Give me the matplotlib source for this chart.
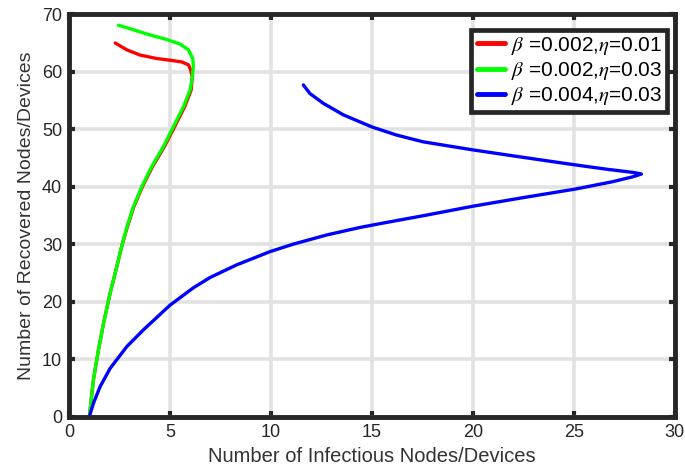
import matplotlib
matplotlib.use("Agg")
import matplotlib.pyplot as plt

# Infectious (x) vs recovered (y) trajectories
red_i = [1.0, 1.2, 1.45, 1.70, 2.03, 2.36, 2.6, 2.88, 3.2, 3.63, 4.13, 4.72,
         5.22, 5.72, 6.04, 6.1, 6.02, 5.91, 5.58, 5.0, 4.34, 3.51, 2.86, 2.28]
red_r = [0.0, 6.4, 11.6, 16.2, 21.5, 26.1, 29.6, 33.0, 36.5, 40.0, 43.5, 47.0,
         50.4, 53.9, 56.8, 59.1, 60.3, 61.2, 61.7, 62.0, 62.3, 62.9, 63.8, 65.0]

green_i = [1.0, 1.2, 1.45, 1.70, 2.03, 2.36, 2.6, 2.86, 3.18, 3.6, 4.09, 4.67,
           5.16, 5.66, 5.99, 6.1, 6.15, 6.12, 5.91, 5.5, 4.84, 4.0, 3.18, 2.44]
green_r = [0.0, 6.4, 11.6, 16.2, 21.5, 26.1, 29.6, 33.0, 36.5, 40.0, 43.5, 47.0,
           50.4, 53.9, 56.8, 59.0, 60.9, 62.3, 63.8, 64.8, 65.6, 66.4, 67.3, 68.1]

blue_i = [1.0, 1.2, 1.53, 2.03, 2.86, 3.68, 5.0, 6.15, 6.98, 8.3, 9.95, 11.1,
          12.76, 14.4, 15.6, 17.7, 20.0, 22.5, 25.1, 26.9, 27.9, 28.35, 28.0,
          27.3, 26.6, 25.05, 22.5, 20.0, 17.54, 16.2, 14.99, 13.58, 12.59,
          11.93, 11.6]
blue_r = [0.0, 2.3, 5.2, 8.4, 12.2, 15.1, 19.4, 22.4, 24.2, 26.4, 28.7, 30.0,
          31.6, 32.9, 33.7, 35.05, 36.6, 38.1, 39.6, 40.85, 41.7, 42.2, 42.45,
          42.75, 43.05, 43.8, 45.1, 46.4, 47.8, 49.0, 50.4, 52.5, 54.5,
          56.2, 57.7]

labels = [r"$\beta$ =0.002,$\eta$=0.01",
          r"$\beta$ =0.002,$\eta$=0.03",
          r"$\beta$ =0.004,$\eta$=0.03"]

plt.rcParams["font.family"] = ["Liberation Sans", "DejaVu Sans"]
plt.rcParams["mathtext.fontset"] = "stix"

fig, ax = plt.subplots(figsize=(6.85, 4.75), dpi=100)
fig.subplots_adjust(left=0.101, right=0.985, bottom=0.123, top=0.970)

kw = dict(linewidth=2.4, solid_joinstyle="round", solid_capstyle="round")
ax.plot(red_i, red_r, color="#ff0000", label=labels[0], **kw)
ax.plot(green_i, green_r, color="#00ff00", label=labels[1], **kw)
ax.plot(blue_i, blue_r, color="#0000ff", label=labels[2], **kw)

ax.set_xlim(0, 30)
ax.set_ylim(0, 70)
ax.set_xticks(range(0, 31, 5))
ax.set_yticks(range(0, 71, 10))
ax.grid(True, color="#e2e2e2", linewidth=2.6)
ax.set_axisbelow(True)
ax.tick_params(direction="in", length=4, width=3, color="#262626",
               top=True, right=True, labelsize=13, labelcolor="#262626", pad=5)
for sp in ax.spines.values():
    sp.set_linewidth(3.5)
    sp.set_color("#262626")

ax.set_xlabel("Number of Infectious Nodes/Devices", fontsize=14.5,
              color="#333333", labelpad=5)
ax.set_ylabel("Number of Recovered Nodes/Devices", fontsize=14,
              color="#333333", labelpad=5)

leg = ax.legend(loc="upper right", bbox_to_anchor=(0.988, 0.962), fontsize=15,
                fancybox=False, framealpha=1, borderpad=0.25, labelspacing=0.15,
                handlelength=1.35, handletextpad=0.3, borderaxespad=0)
leg.get_frame().set_edgecolor("#262626")
leg.get_frame().set_linewidth(3.4)
for line in leg.get_lines():
    line.set_linewidth(3.5)

fig.savefig("out.png", dpi=100)
